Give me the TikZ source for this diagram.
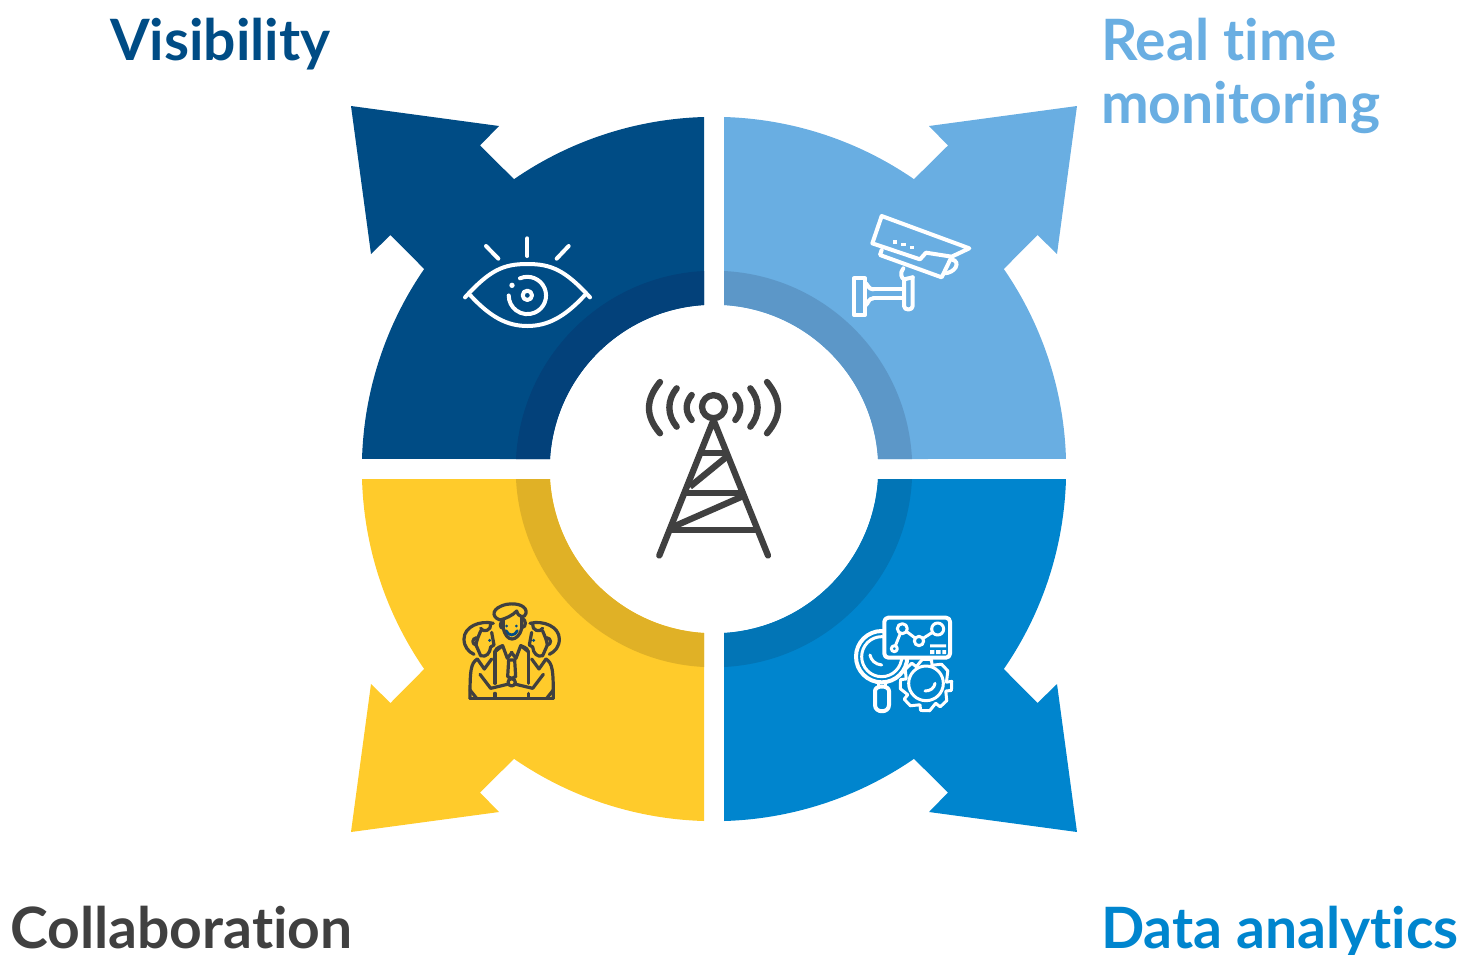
\documentclass[tikz,border=0pt]{standalone}
\usepackage{fontspec}
\setmainfont{Lato}[Ligatures=NoCommon]
\definecolor{cNavy}{HTML}{004C85}
\definecolor{cNavyR}{HTML}{03417A}
\definecolor{cSky}{HTML}{69AEE2}
\definecolor{cSkyR}{HTML}{5C97C8}
\definecolor{cBlue}{HTML}{0085CE}
\definecolor{cBlueR}{HTML}{0275B6}
\definecolor{cYel}{HTML}{FFCB2B}
\definecolor{cYelR}{HTML}{E0B126}
\definecolor{cDark}{HTML}{404040}
\tikzset{
  label/.style={anchor=base west,inner sep=0pt,font=\fontsize{57}{63}\selectfont\bfseries,align=left},
  iconW/.style={draw=white,line width=4pt,line cap=round,line join=round},
  iconT/.style={draw=white,line width=3pt,line cap=round,line join=round},
  iconD/.style={draw=cDark,line width=3.2pt,line cap=round,line join=round},
  towerL/.style={draw=cDark,line width=6.3pt,line cap=round,line join=round},
}
\newcommand{\quadshape}[4]{%
  \begin{scope}[shift={(714,469)},xscale=#3,yscale=#4]
    \fill[#1] (-10,-164.3) -- (-10,-352) arc[start angle=268.37,end angle=235.38,radius=352pt]
      -- (-234,-323.5) -- (-215,-343) -- (-363,-363) -- (-343,-215) -- (-323.5,-234) -- (-289.8,-200)
      arc[start angle=214.62,end angle=181.63,radius=352pt]
      -- (-164,-10) arc[start angle=183.49,end angle=266.51,radius=164.3pt] -- cycle;
    \fill[#2] (-10,-164.3) -- (-10,-198) arc[start angle=267.11,end angle=182.89,radius=198.25pt]
      -- (-164,-10) arc[start angle=183.49,end angle=266.51,radius=164.3pt] -- cycle;
  \end{scope}}
\begin{document}
\begin{tikzpicture}[x=1pt,y=1pt,yscale=-1]
\useasboundingbox (0,0) rectangle (1478,954);
\quadshape{cNavy}{cNavyR}{1}{1}
\quadshape{cSky}{cSkyR}{-1}{1}
\quadshape{cBlue}{cBlueR}{-1}{-1}
\quadshape{cYel}{cYelR}{1}{-1}
% labels
\node[label,text=cNavy] (vis) at (110,60) {Visibility};
\node[label,text=cSky] (real) at (1101,60) {Real time};
\node[label,text=cSky] (mon) at (1101,123) {monitoring};
\node[label,text=cDark] (col) at (10,948) {Collaboration};
\node[label,text=cBlue] (dat) at (1101,948) {Data analytics};
% tower
\draw[towerL] (713.5,406.7) circle[radius=11.5pt];
\draw[towerL] (659.3,555.5) -- (713.5,420) -- (768,555.5);
\draw[towerL,line cap=butt] (699,453.3) -- (728,453.3);
\draw[towerL,line cap=butt] (685,492.7) -- (742,492.7);
\draw[towerL,line cap=butt] (671,530) -- (757,530);
\draw[towerL,line cap=butt] (726.7,456.7) -- (690,486.7);
\draw[towerL,line cap=butt] (741.7,496.7) -- (673.3,526.7);
\foreach \s/\o in {1/0,-1/1427}{
\begin{scope}[shift={(\o,0)},xscale=\s]
\draw[towerL] (660,382) .. controls (645.3,400) and (645.3,416) .. (660,433.3);
\draw[towerL] (676.7,388.3) .. controls (666.9,400) and (666.9,415) .. (676.7,426.7);
\draw[towerL] (691.7,395) .. controls (685,403) and (685,412) .. (691.7,420);
\end{scope}}
% eye
\begin{scope}[shift={(440,220)},scale=1/3]
\draw[iconW] (262,55) -- (262,108);
\draw[iconW] (138,78) -- (175,116);
\draw[iconW] (386,78) -- (350,116);
\draw[iconW] (75,232) .. controls (150,150) and (190,132) .. (262,132) .. controls (334,132) and (375,150) .. (450,232);
\draw[iconW] (90,225) .. controls (150,290) and (200,318) .. (262,318) .. controls (324,318) and (375,290) .. (435,225);
\draw[iconW] (240,175) arc[start angle=246.7,end angle=540,radius=56pt];
\draw[iconW] (262,226) circle[radius=14pt];
\fill[white] (216,196) circle[radius=8pt];
\end{scope}
% camera
\begin{scope}[shift={(840,200)},scale=1/3]
\draw[iconW] (125,48) -- (388,145) -- (335,170) -- (258,158) -- (240,178) -- (97,130) -- cycle;
\draw[iconW] (125,150) -- (120,165) -- (305,232) -- (335,170);
\draw[iconW] (335,178) .. controls (365,185) and (345,220) .. (312,220);
\draw[iconW] (190,205) .. controls (178,220) and (185,235) .. (192,238) -- (192,318) .. controls (192,332) and (218,332) .. (218,318) -- (218,232);
\draw[iconW] (192,238) -- (218,232);
\draw[iconW] (100,268) -- (190,268);
\draw[iconW] (100,295) -- (190,295);
\draw[iconW] (78,250) .. controls (85,255) and (85,268) .. (100,268);
\draw[iconW] (78,315) .. controls (85,310) and (85,295) .. (100,295);
\draw[iconW] (42,235) rectangle (75,345);
\fill[white] (160,120) rectangle (172,131);
\fill[white] (184,128) rectangle (197,139);
\fill[white] (209,137) rectangle (222,148);
\end{scope}
% people
\begin{scope}[shift={(450,595)},scale=1/3]
\foreach \s/\o in {1/0,-1/370}{
\begin{scope}[shift={(\o,0)},xscale=\s]
\draw[iconD] (130,85) .. controls (90,75) and (42,95) .. (42,132) .. controls (42,155) and (55,170) .. (72,178);
\draw[iconD] (122,88) .. controls (125,105) and (100,115) .. (92,100);
\draw[iconD] (92,108) .. controls (85,125) and (80,135) .. (78,150);
\draw[iconD] (125,112) -- (132,150) -- (122,156) .. controls (120,175) and (108,188) .. (92,182) -- (78,150);
\draw[iconD] (78,150) .. controls (65,148) and (65,130) .. (80,128);
\draw[iconD] (82,192) .. controls (62,205) and (60,225) .. (60,310);
\draw[iconD] (82,192) -- (103,222) -- (125,192);
\draw[iconD] (90,238) -- (122,280) -- (172,268);
\draw[iconD] (60,285) -- (80,310);
\draw[iconD] (135,295) -- (135,310);
\draw[iconD] (135,170) -- (135,265);
\draw[iconD] (135,170) -- (158,152) -- (172,190) -- (186,172);
\draw[iconD] (158,152) .. controls (140,158) and (135,165) .. (135,170);
\end{scope}}
\fill[cNavy] (119,136) circle[radius=5pt] (251,136) circle[radius=5pt] (170,93) circle[radius=4.5pt] (199,93) circle[radius=4.5pt];
\draw[cNavy,line width=2.8pt,line cap=round] (168,107) .. controls (175,124) and (195,124) .. (202,107);
\draw[iconD] (160,72) -- (160,100) .. controls (165,122) and (175,132) .. (186,132) .. controls (197,132) and (210,122) .. (215,100) -- (215,65);
\draw[iconD] (150,75) .. controls (122,65) and (125,38) .. (170,28) .. controls (205,22) and (232,35) .. (228,55) .. controls (225,70) and (205,68) .. (200,48) .. controls (190,60) and (165,72) .. (150,75);
\draw[iconD] (160,80) .. controls (148,80) and (148,100) .. (160,100);
\draw[iconD] (215,70) .. controls (230,72) and (230,98) .. (215,98);
\draw[iconD] (60,310) -- (310,310);
\draw[iconD] (176,195) -- (194,195) -- (197,245) -- (185,250) -- (173,245) -- cycle;
\draw[iconD,fill=cYel] (185,262) circle[radius=11pt];
\end{scope}
% analytics
\begin{scope}[shift={(845,605)},scale=1/3]
\draw[iconT,fill=cBlue,shift={(243,240)}] (-8:62pt) -- (-8:78pt) -- (12:78pt) -- (17:62pt)
  -- (37:78pt) -- (57:78pt) -- (62:62pt) -- (82:78pt) -- (102:78pt) -- (107:62pt)
  -- (127:78pt) -- (147:78pt) -- (152:62pt) -- (172:78pt) -- (192:78pt) -- (197:62pt)
  -- (217:78pt) -- (237:78pt) -- (242:62pt) -- (262:78pt) -- (282:78pt) -- (287:62pt)
  -- (307:78pt) -- (327:78pt) -- cycle;
\draw[iconT] (243,235) circle[radius=52pt];
\draw[iconT] (240,258) .. controls (255,258) and (268,250) .. (270,235);
\draw[iconW,fill=cBlue] (110,155) circle[radius=77pt];
\draw[iconT] (110,155) circle[radius=60pt];
\draw[iconT] (75,150) .. controls (78,165) and (90,178) .. (110,180);
\draw[iconT] (100,232) -- (100,245) (122,232) -- (122,245);
\draw[iconW] (90,258) .. controls (90,240) and (132,240) .. (132,258) -- (132,300) .. controls (132,325) and (90,325) .. (90,300) -- cycle;
\draw[iconW,fill=cBlue,rounded corners=4pt] (118,38) rectangle (315,158);
\draw[iconT] (148,130) -- (172,70) -- (222,108) -- (278,72);
\draw[iconT,fill=cBlue] (148,131) circle[radius=9pt];
\draw[iconT,fill=cBlue] (172,71) circle[radius=15pt];
\draw[iconT,fill=cBlue] (222,108) circle[radius=14pt];
\draw[iconT,fill=cBlue] (278,72) circle[radius=18pt];
\fill[white] (255,118) rectangle (303,127) (255,135) rectangle (268,147) (273,135) rectangle (287,147) (292,135) rectangle (303,147);
\end{scope}
\end{tikzpicture}
\end{document}
